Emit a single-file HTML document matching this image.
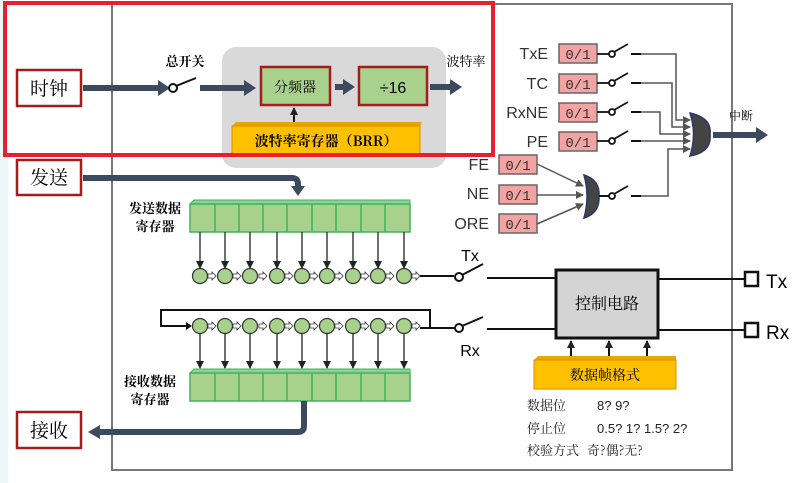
<!DOCTYPE html>
<html><head><meta charset="utf-8"><style>
html,body{margin:0;padding:0;background:#fff;}
svg{display:block;}
text{font-family:"Liberation Sans","Noto Serif CJK SC","Noto Sans CJK SC",sans-serif;}
.cj{font-family:"Noto Serif CJK SC","Noto Sans CJK SC",serif;}
.mono{font-family:"Liberation Mono",monospace;}
</style></head><body>
<svg width="804" height="483" viewBox="0 0 804 483" xmlns="http://www.w3.org/2000/svg">
<defs>
<marker id="ah" markerWidth="8" markerHeight="8" refX="7" refY="4" orient="auto" markerUnits="userSpaceOnUse"><path d="M0,0 L8,4 L0,8 z" fill="#222"/></marker>
<marker id="ag" markerWidth="8" markerHeight="8" refX="7" refY="4" orient="auto" markerUnits="userSpaceOnUse"><path d="M0,0 L8,4 L0,8 z" fill="#555"/></marker>
<marker id="big" markerWidth="12" markerHeight="16" refX="2" refY="8" orient="auto" markerUnits="userSpaceOnUse"><path d="M0,0 L12,8 L0,16 z" fill="#3c4a60"/></marker>
</defs>
<rect x="0" y="0" width="8" height="483" fill="#eef7f8"/>
<!-- main frame -->
<rect x="112" y="4" width="620" height="466" fill="none" stroke="#777" stroke-width="2"/>

<!-- clock section -->
<rect x="222" y="47" width="224" height="121" rx="14" fill="#d9d9d9"/>
<rect x="17" y="70" width="64" height="36" fill="#fff" stroke="#a61c1c" stroke-width="2.5"/>
<text x="49" y="95" font-size="19" text-anchor="middle" class="cj">时钟</text>
<line x1="83" y1="88" x2="160" y2="88" stroke="#3c4a60" stroke-width="6" marker-end="url(#big)"/>
<circle cx="173" cy="88" r="4" fill="#fff" stroke="#111" stroke-width="2"/>
<line x1="176" y1="86" x2="196" y2="78" stroke="#111" stroke-width="2"/>
<text x="185" y="66" font-size="13" text-anchor="middle" class="cj" font-weight="bold">总开关</text>
<line x1="200" y1="88" x2="246" y2="88" stroke="#3c4a60" stroke-width="6" marker-end="url(#big)"/>
<rect x="261" y="67" width="69" height="38" fill="#a9d18e" stroke="#a61c1c" stroke-width="2.5"/>
<text x="295" y="92" font-size="14" text-anchor="middle" class="cj">分频器</text>
<line x1="335" y1="87" x2="345" y2="87" stroke="#3c4a60" stroke-width="6" marker-end="url(#big)"/>
<rect x="359" y="67" width="68" height="38" fill="#a9d18e" stroke="#a61c1c" stroke-width="2.5"/>
<text x="393" y="93" font-size="16" text-anchor="middle">÷16</text>
<line x1="430" y1="87" x2="452" y2="87" stroke="#3c4a60" stroke-width="6" marker-end="url(#big)"/>
<text x="466" y="66" font-size="13" text-anchor="middle" class="cj">波特率</text>
<line x1="294" y1="122" x2="294" y2="108" stroke="#111" stroke-width="2" marker-end="url(#ah)"/>
<path d="M232,126 L236,122 L422,122 L420,126 z" fill="#e6a800"/>
<rect x="232" y="126" width="188" height="28" fill="#ffc000" stroke="#e08a00" stroke-width="1"/>
<text x="326" y="146" font-size="14" text-anchor="middle" class="cj" font-weight="bold">波特率寄存器（BRR）</text>
<rect x="5" y="3" width="488" height="152" fill="none" stroke="#e8202a" stroke-width="4"/>

<!-- send -->
<rect x="17" y="160" width="64" height="35" fill="#fff" stroke="#a61c1c" stroke-width="2.5"/>
<text x="49" y="184" font-size="19" text-anchor="middle" class="cj">发送</text>
<path d="M83,178 L292,178 Q298,178 298,184 L298,186" fill="none" stroke="#3c4a60" stroke-width="6"/>
<path d="M291,186 L305,186 L298,196 z" fill="#3c4a60"/>
<text x="155" y="213" font-size="13" text-anchor="middle" class="cj" font-weight="bold">发送数据</text>
<text x="155" y="231" font-size="13" text-anchor="middle" class="cj" font-weight="bold">寄存器</text>
<path d="M190,204 L194,200 L410,200 L410,204 z" fill="#8fd09a" stroke="#3cb55a" stroke-width="1"/>
<rect x="190" y="204" width="220" height="28" fill="#a9d18e" stroke="#3cb55a" stroke-width="1.5"/>
<g stroke="#3cb55a" stroke-width="1.5">
<line x1="215" y1="204" x2="215" y2="232"/><line x1="239" y1="204" x2="239" y2="232"/><line x1="263" y1="204" x2="263" y2="232"/><line x1="287" y1="204" x2="287" y2="232"/><line x1="312" y1="204" x2="312" y2="232"/><line x1="336" y1="204" x2="336" y2="232"/><line x1="361" y1="204" x2="361" y2="232"/><line x1="385" y1="204" x2="385" y2="232"/>
</g>
<g stroke="#222" stroke-width="1.3" marker-end="url(#ah)">
<line x1="200" y1="232" x2="200" y2="268"/><line x1="225" y1="232" x2="225" y2="268"/><line x1="250" y1="232" x2="250" y2="268"/><line x1="277" y1="232" x2="277" y2="268"/><line x1="302" y1="232" x2="302" y2="268"/><line x1="327" y1="232" x2="327" y2="268"/><line x1="353" y1="232" x2="353" y2="268"/><line x1="378" y1="232" x2="378" y2="268"/><line x1="404" y1="232" x2="404" y2="268"/>
</g>
<g fill="#a9d18e" stroke="#333" stroke-width="1.2">
<circle cx="200" cy="276" r="7.5"/><circle cx="225" cy="276" r="7.5"/><circle cx="250" cy="276" r="7.5"/><circle cx="277" cy="276" r="7.5"/><circle cx="302" cy="276" r="7.5"/><circle cx="327" cy="276" r="7.5"/><circle cx="353" cy="276" r="7.5"/><circle cx="378" cy="276" r="7.5"/><circle cx="404" cy="276" r="7.5"/>
</g>
<g fill="#fff" stroke="#333" stroke-width="0.8">
<path d="M208,274 h4 v-2 l4,4 l-4,4 v-2 h-4z"/><path d="M233,274 h4 v-2 l4,4 l-4,4 v-2 h-4z"/><path d="M259,274 h4 v-2 l4,4 l-4,4 v-2 h-4z"/><path d="M285,274 h4 v-2 l4,4 l-4,4 v-2 h-4z"/><path d="M310,274 h4 v-2 l4,4 l-4,4 v-2 h-4z"/><path d="M335,274 h4 v-2 l4,4 l-4,4 v-2 h-4z"/><path d="M361,274 h4 v-2 l4,4 l-4,4 v-2 h-4z"/><path d="M386,274 h4 v-2 l4,4 l-4,4 v-2 h-4z"/><path d="M412,274 h4 v-2 l4,4 l-4,4 v-2 h-4z"/>
</g>
<line x1="420" y1="276" x2="454" y2="276" stroke="#111" stroke-width="2"/>
<circle cx="459" cy="277" r="4" fill="#fff" stroke="#111" stroke-width="2"/>
<line x1="462" y1="275" x2="483" y2="264" stroke="#111" stroke-width="2"/>
<text x="470" y="261" font-size="16" text-anchor="middle">Tx</text>
<line x1="487" y1="278" x2="556" y2="278" stroke="#111" stroke-width="2"/>

<!-- receive shift -->
<path d="M420,328 L430,328 L430,310 L161,310 L161,326 L190,326" fill="none" stroke="#111" stroke-width="2"/>
<path d="M186,322 l6,4 l-6,4 z" fill="#111"/>
<line x1="430" y1="328" x2="454" y2="328" stroke="#111" stroke-width="2"/>
<circle cx="459" cy="328" r="4" fill="#fff" stroke="#111" stroke-width="2"/>
<line x1="462" y1="326" x2="483" y2="317" stroke="#111" stroke-width="2"/>
<text x="470" y="356" font-size="16" text-anchor="middle">Rx</text>
<line x1="487" y1="329" x2="556" y2="329" stroke="#111" stroke-width="2"/>
<g fill="#a9d18e" stroke="#333" stroke-width="1.2">
<circle cx="200" cy="326" r="7.5"/><circle cx="225" cy="326" r="7.5"/><circle cx="250" cy="326" r="7.5"/><circle cx="277" cy="326" r="7.5"/><circle cx="302" cy="326" r="7.5"/><circle cx="327" cy="326" r="7.5"/><circle cx="353" cy="326" r="7.5"/><circle cx="378" cy="326" r="7.5"/><circle cx="404" cy="326" r="7.5"/>
</g>
<g fill="#fff" stroke="#333" stroke-width="0.8">
<path d="M208,324 h4 v-2 l4,4 l-4,4 v-2 h-4z"/><path d="M233,324 h4 v-2 l4,4 l-4,4 v-2 h-4z"/><path d="M259,324 h4 v-2 l4,4 l-4,4 v-2 h-4z"/><path d="M285,324 h4 v-2 l4,4 l-4,4 v-2 h-4z"/><path d="M310,324 h4 v-2 l4,4 l-4,4 v-2 h-4z"/><path d="M335,324 h4 v-2 l4,4 l-4,4 v-2 h-4z"/><path d="M361,324 h4 v-2 l4,4 l-4,4 v-2 h-4z"/><path d="M386,324 h4 v-2 l4,4 l-4,4 v-2 h-4z"/><path d="M412,324 h4 v-2 l4,4 l-4,4 v-2 h-4z"/>
</g>
<g stroke="#222" stroke-width="1.3" marker-end="url(#ah)">
<line x1="200" y1="334" x2="200" y2="368"/><line x1="225" y1="334" x2="225" y2="368"/><line x1="250" y1="334" x2="250" y2="368"/><line x1="277" y1="334" x2="277" y2="368"/><line x1="302" y1="334" x2="302" y2="368"/><line x1="327" y1="334" x2="327" y2="368"/><line x1="353" y1="334" x2="353" y2="368"/><line x1="378" y1="334" x2="378" y2="368"/><line x1="404" y1="334" x2="404" y2="368"/>
</g>
<path d="M190,373 L194,369 L410,369 L410,373 z" fill="#8fd09a" stroke="#3cb55a" stroke-width="1"/>
<rect x="190" y="373" width="220" height="28" fill="#a9d18e" stroke="#3cb55a" stroke-width="1.5"/>
<g stroke="#3cb55a" stroke-width="1.5">
<line x1="215" y1="373" x2="215" y2="401"/><line x1="239" y1="373" x2="239" y2="401"/><line x1="263" y1="373" x2="263" y2="401"/><line x1="287" y1="373" x2="287" y2="401"/><line x1="312" y1="373" x2="312" y2="401"/><line x1="336" y1="373" x2="336" y2="401"/><line x1="361" y1="373" x2="361" y2="401"/><line x1="385" y1="373" x2="385" y2="401"/>
</g>
<text x="150" y="386" font-size="13" text-anchor="middle" class="cj" font-weight="bold">接收数据</text>
<text x="150" y="404" font-size="13" text-anchor="middle" class="cj" font-weight="bold">寄存器</text>
<path d="M304,401 L304,426 Q304,432 298,432 L100,432" fill="none" stroke="#3c4a60" stroke-width="6"/>
<path d="M100,425 L88,432 L100,439 z" fill="#3c4a60"/>
<rect x="17" y="412" width="64" height="36" fill="#fff" stroke="#a61c1c" stroke-width="2.5"/>
<text x="49" y="437" font-size="19" text-anchor="middle" class="cj">接收</text>

<!-- control -->
<rect x="556" y="270" width="102" height="68" fill="#d4d4d4" stroke="#111" stroke-width="3"/>
<text x="607" y="309" font-size="16" text-anchor="middle" class="cj">控制电路</text>
<line x1="658" y1="279" x2="745" y2="279" stroke="#111" stroke-width="2"/>
<line x1="658" y1="330" x2="745" y2="330" stroke="#111" stroke-width="2"/>
<rect x="745" y="272" width="13" height="14" fill="#fff" stroke="#111" stroke-width="2.5"/>
<rect x="745" y="323" width="13" height="14" fill="#fff" stroke="#111" stroke-width="2.5"/>
<text x="766" y="288" font-size="19">Tx</text>
<text x="766" y="339" font-size="19">Rx</text>
<g stroke="#111" stroke-width="2" marker-end="url(#ah)">
<line x1="571" y1="357" x2="571" y2="341"/><line x1="609" y1="357" x2="609" y2="341"/><line x1="647" y1="357" x2="647" y2="341"/>
</g>
<path d="M534,360 L538,356 L676,356 L676,360 z" fill="#e6a800"/>
<rect x="534" y="360" width="142" height="29" fill="#ffc000" stroke="#e08a00" stroke-width="1"/>
<text x="605" y="380" font-size="14" text-anchor="middle" class="cj">数据帧格式</text>
<g font-size="13" fill="#222">
<text x="527" y="410" class="cj">数据位</text><text x="597" y="410">8?  9?</text>
<text x="527" y="433" class="cj">停止位</text><text x="597" y="433">0.5?  1?  1.5?  2?</text>
<text x="527" y="455" class="cj">校验方式</text><text x="587" y="455" class="cj">奇?偶?无?</text>
</g>

<!-- interrupt flags -->
<g font-size="16" fill="#333" text-anchor="end">
<text x="548" y="59">TxE</text><text x="548" y="89">TC</text><text x="548" y="118">RxNE</text><text x="548" y="147">PE</text>
<text x="489" y="170">FE</text><text x="489" y="199">NE</text><text x="489" y="229">ORE</text>
</g>
<g fill="#f4a3a3" stroke="#666" stroke-width="1.5">
<rect x="559" y="44" width="38" height="19"/><rect x="559" y="74" width="38" height="19"/><rect x="559" y="103" width="38" height="19"/><rect x="559" y="132" width="38" height="19"/>
<rect x="499" y="155" width="38" height="19"/><rect x="499" y="185" width="38" height="19"/><rect x="499" y="214" width="38" height="19"/>
</g>
<g font-size="14" fill="#333" class="mono" text-anchor="middle">
<text x="578" y="59" class="mono">0/1</text><text x="578" y="89" class="mono">0/1</text><text x="578" y="118" class="mono">0/1</text><text x="578" y="147" class="mono">0/1</text>
<text x="518" y="170" class="mono">0/1</text><text x="518" y="200" class="mono">0/1</text><text x="518" y="229" class="mono">0/1</text>
</g>
<!-- switches -->
<g stroke="#111" stroke-width="1.8" fill="#fff">
<line x1="597" y1="54" x2="609" y2="54"/><circle cx="612" cy="54" r="3"/><line x1="614" y1="52" x2="628" y2="44"/><line x1="631" y1="54" x2="641" y2="54" stroke-width="2"/>
<line x1="597" y1="83" x2="609" y2="83"/><circle cx="612" cy="83" r="3"/><line x1="614" y1="81" x2="628" y2="73"/><line x1="631" y1="83" x2="641" y2="83" stroke-width="2"/>
<line x1="597" y1="112" x2="609" y2="112"/><circle cx="612" cy="112" r="3"/><line x1="614" y1="110" x2="628" y2="102"/><line x1="631" y1="112" x2="641" y2="112" stroke-width="2"/>
<line x1="597" y1="141" x2="609" y2="141"/><circle cx="612" cy="141" r="3"/><line x1="614" y1="139" x2="628" y2="131"/><line x1="631" y1="141" x2="641" y2="141" stroke-width="2"/>
<line x1="597" y1="196" x2="609" y2="196"/><circle cx="612" cy="196" r="3"/><line x1="614" y1="194" x2="628" y2="186"/><line x1="631" y1="196" x2="641" y2="196" stroke-width="2"/>
</g>
<g fill="none" stroke="#555" stroke-width="1.5" marker-end="url(#ag)">
<path d="M641,54 L676,54 L676,120 L690,120"/>
<path d="M641,83 L672,83 L672,127 L690,127"/>
<path d="M641,112 L660,112 L660,134 L690,134"/>
<path d="M641,141 L690,141"/>
<path d="M641,196 L668,196 L668,149 L690,149"/>
<path d="M537,164 L583,186"/>
<path d="M537,195 L583,195"/>
<path d="M537,224 L583,204"/>
</g>
<path d="M690,113 Q712,118 710,134 Q712,152 690,156 Q697,134 690,113 z" fill="#444" stroke="#2a3a66" stroke-width="1.5"/>
<path d="M584,175 Q600,180 599,196 Q600,213 584,218 Q590,196 584,175 z" fill="#444" stroke="#2a3a66" stroke-width="1.5"/>
<line x1="599" y1="196" x2="609" y2="196" stroke="#111" stroke-width="1.8"/>
<line x1="713" y1="135" x2="758" y2="135" stroke="#3c4a60" stroke-width="6" marker-end="url(#big)"/>
<text x="741" y="120" font-size="12" text-anchor="middle" class="cj">中断</text>
</svg>
</body></html>
